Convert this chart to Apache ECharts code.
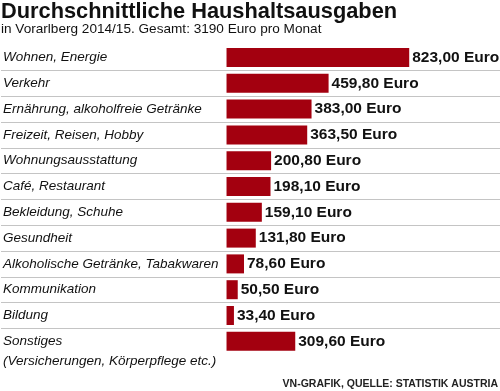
<!DOCTYPE html>
<html>
<head>
<meta charset="utf-8">
<script src="https://cdn.jsdelivr.net/npm/echarts@6/dist/echarts.min.js"></script>
<style>
  html, body { margin: 0; padding: 0; background: #fff; }
  #chart { width: 500px; height: 391px; }
</style>
</head>
<body>
<div id="chart"></div>
<script>
const titleText = 'Durchschnittliche Haushaltsausgaben';
const subtitleText = 'in Vorarlberg 2014/15. Gesamt: 3190 Euro pro Monat';
const sourceText = 'VN-GRAFIK, QUELLE: STATISTIK AUSTRIA';
const categories = [
  'Wohnen, Energie',
  'Verkehr',
  'Ernährung, alkoholfreie Getränke',
  'Freizeit, Reisen, Hobby',
  'Wohnungsausstattung',
  'Café, Restaurant',
  'Bekleidung, Schuhe',
  'Gesundheit',
  'Alkoholische Getränke, Tabakwaren',
  'Kommunikation',
  'Bildung',
  'Sonstiges\n(Versicherungen, Körperpflege etc.)'
];
const values = [823.00, 459.80, 383.00, 363.50, 200.80, 198.10, 159.10, 131.80, 78.60, 50.50, 33.40, 309.60];
const unit = 'Euro';

const font = '"Liberation Sans", Arial, sans-serif';
// separator lines between rows only (first and last boundary hidden)
const lineColors = categories.slice(1).map(() => '#c4c4c4');
lineColors.unshift('rgba(0,0,0,0)');
lineColors.push('rgba(0,0,0,0)');

const chart = echarts.init(document.getElementById('chart'), null, { renderer: 'canvas' });
chart.setOption({
  animation: false,
  backgroundColor: '#ffffff',
  title: [
    {
      text: titleText,
      left: 1, top: 1, padding: 0,
      textStyle: { fontFamily: font, fontWeight: 'bold', fontSize: 21.8, color: '#111' }
    },
    {
      text: subtitleText,
      left: 1, top: 22, padding: 0,
      textStyle: { fontFamily: font, fontWeight: 'normal', fontSize: 13.6, color: '#111' }
    },
    {
      text: sourceText,
      right: 2, bottom: 1, padding: 0,
      textStyle: { fontFamily: font, fontWeight: 'bold', fontSize: 10.5, color: '#222' }
    }
  ],
  grid: { left: 0, right: 0, top: 44.6, height: 309.6, containLabel: false },
  xAxis: {
    type: 'value',
    min: -1016, max: 1232,
    show: false,
    splitLine: { show: false }
  },
  yAxis: {
    type: 'category',
    data: categories,
    inverse: true,
    axisLine: { show: false },
    axisTick: { show: false },
    splitLine: { show: true, lineStyle: { color: lineColors, width: 1 } },
    axisLabel: {
      inside: true,
      interval: 0,
      showMinLabel: true,
      showMaxLabel: true,
      hideOverlap: false,
      margin: 2,
      fontFamily: font,
      fontStyle: 'italic',
      fontSize: 13.5,
      lineHeight: 20,
      color: '#111',
      formatter: (v) => (v.indexOf('\n') >= 0 ? '\n' + v : v)
    },
    z: 5
  },
  series: [{
    type: 'bar',
    data: values,
    barWidth: 19,
    itemStyle: { color: '#a3000f' },
    label: {
      show: true,
      position: 'right',
      distance: 3,
      fontFamily: font,
      fontWeight: 'bold',
      fontSize: 15.5,
      color: '#111',
      formatter: (p) => p.value.toFixed(2).replace('.', ',') + ' ' + unit
    }
  }]
});
</script>
</body>
</html>
